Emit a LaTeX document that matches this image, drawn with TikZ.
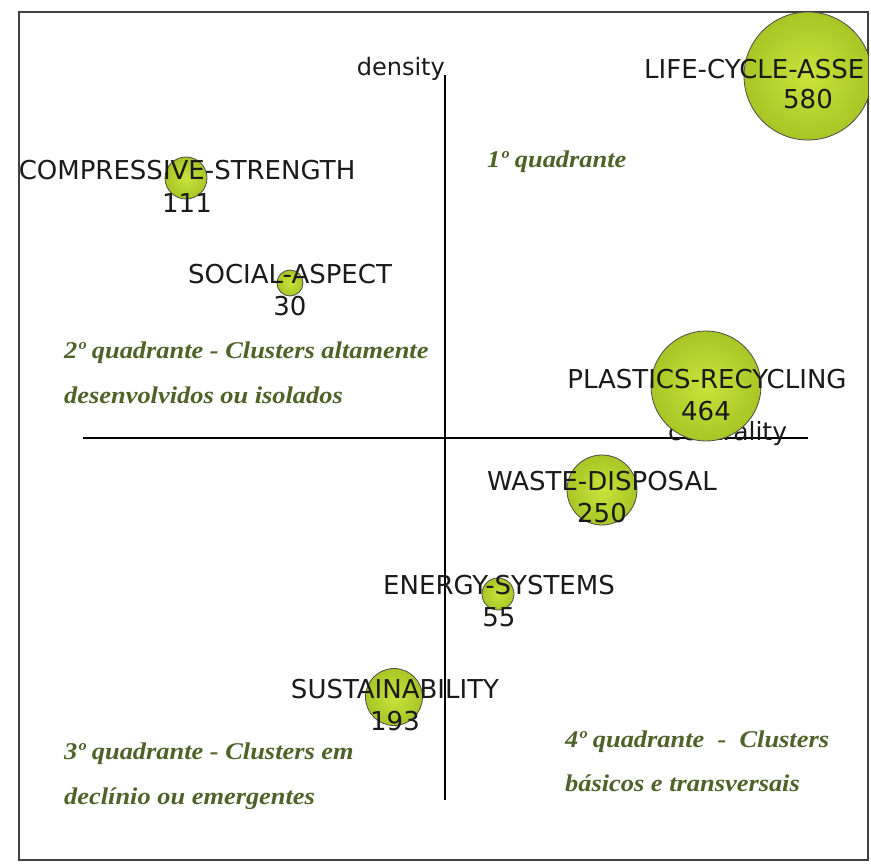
\documentclass[tikz,border=0pt]{standalone}
\usepackage{fontspec}
\setmainfont{Liberation Serif}
\newfontfamily\labfont{DejaVu Sans}
\newfontfamily\quadfont[FakeStretch=1.1]{Liberation Serif}
\definecolor{olivetxt}{HTML}{4F6228}
\definecolor{labgray}{HTML}{1A1A1A}
\definecolor{bubin}{HTML}{CAE33C}
\definecolor{bubmid}{HTML}{A9C726}
\definecolor{bubdark}{HTML}{7A9612}
\definecolor{bubout}{HTML}{4E6406}
\pgfdeclareradialshading{bubshade}{\pgfpoint{0bp}{0bp}}{color(0bp)=(bubin); color(24bp)=(bubmid); color(41bp)=(bubdark); color(50bp)=(bubout)}
\tikzset{
  bubble/.style={circle, inner sep=0pt, minimum size=#1, shading=bubshade, draw=black!70, line width=0.8pt},
  clab/.style={font=\labfont\fontsize{26}{28}\selectfont, text=labgray, inner sep=0pt},
  quad/.style={font=\quadfont\fontsize{24}{26}\selectfont\bfseries\itshape, text=olivetxt, inner sep=0pt, anchor=base west},
  axis/.style={line width=1.3pt, black},
}
\begin{document}
\begin{tikzpicture}[x=1pt,y=-1pt]
\useasboundingbox (0,0) rectangle (871,863);
\fill[white] (0,0) rectangle (871,863);
\draw[line width=2pt, black!75] (19,12) rectangle (868,860);
\begin{scope}
\clip (19,12) rectangle (868,860);
% axes
\coordinate (vt) at (445,75);
\coordinate (vb) at (445,800);
\coordinate (hl) at (83,438);
\coordinate (hr) at (808,438);
\draw[axis] (vt) -- (vb);
\draw[axis] (hl) -- (hr);
\node[clab, font=\labfont\fontsize{24}{26}\selectfont, anchor=base east] (dens) at (445,75) {density};
\node[clab, font=\labfont\fontsize{25}{26}\selectfont, anchor=base west] (cent) at (668,440) {centrality};
% bubbles
\node[bubble=128pt] (lca) at (808,76) {};
\node[bubble=110pt] (plr) at (706,386) {};
\node[bubble=70pt] (wd) at (602,490) {};
\node[bubble=32pt] (es) at (498,594) {};
\node[bubble=57pt] (sus) at (394,697) {};
\node[bubble=42pt] (cs) at (186,178) {};
\node[bubble=26pt] (sa) at (290,283) {};
% labels
\node[clab, anchor=base west] (lcal) at (644,78) {LIFE-CYCLE-ASSE};
\node[clab, anchor=base] (lcan) at (808,108) {580};
\node[clab, anchor=base] (plrl) at (707,388) {PLASTICS-RECYCLING};
\node[clab, anchor=base] (plrn) at (706,420) {464};
\node[clab, anchor=base] (wdl) at (602,490) {WASTE-DISPOSAL};
\node[clab, anchor=base] (wdn) at (602,522) {250};
\node[clab, anchor=base] (esl) at (499,594) {ENERGY-SYSTEMS};
\node[clab, anchor=base] (esn) at (499,626) {55};
\node[clab, anchor=base] (susl) at (395,698) {SUSTAINABILITY};
\node[clab, anchor=base] (susn) at (395,730) {193};
\node[clab, anchor=base] (csl) at (187,179) {COMPRESSIVE-STRENGTH};
\node[clab, anchor=base] (csn) at (187,212) {111};
\node[clab, anchor=base] (sal) at (290,283) {SOCIAL-ASPECT};
\node[clab, anchor=base] (san) at (290,315) {30};
\end{scope}
% quadrant texts
\node[quad] (q1) at (487,167) {1º quadrante};
\node[quad] (q2a) at (64,358) {2º quadrante - Clusters altamente};
\node[quad] (q2b) at (64,403) {desenvolvidos ou isolados};
\node[quad] (q3a) at (64,759) {3º quadrante - Clusters em};
\node[quad] (q3b) at (64,804) {declínio ou emergentes};
\node[quad] (q4a) at (565,747) {4º quadrante~ - ~Clusters};
\node[quad] (q4b) at (565,791) {básicos e transversais};
\end{tikzpicture}
\end{document}
